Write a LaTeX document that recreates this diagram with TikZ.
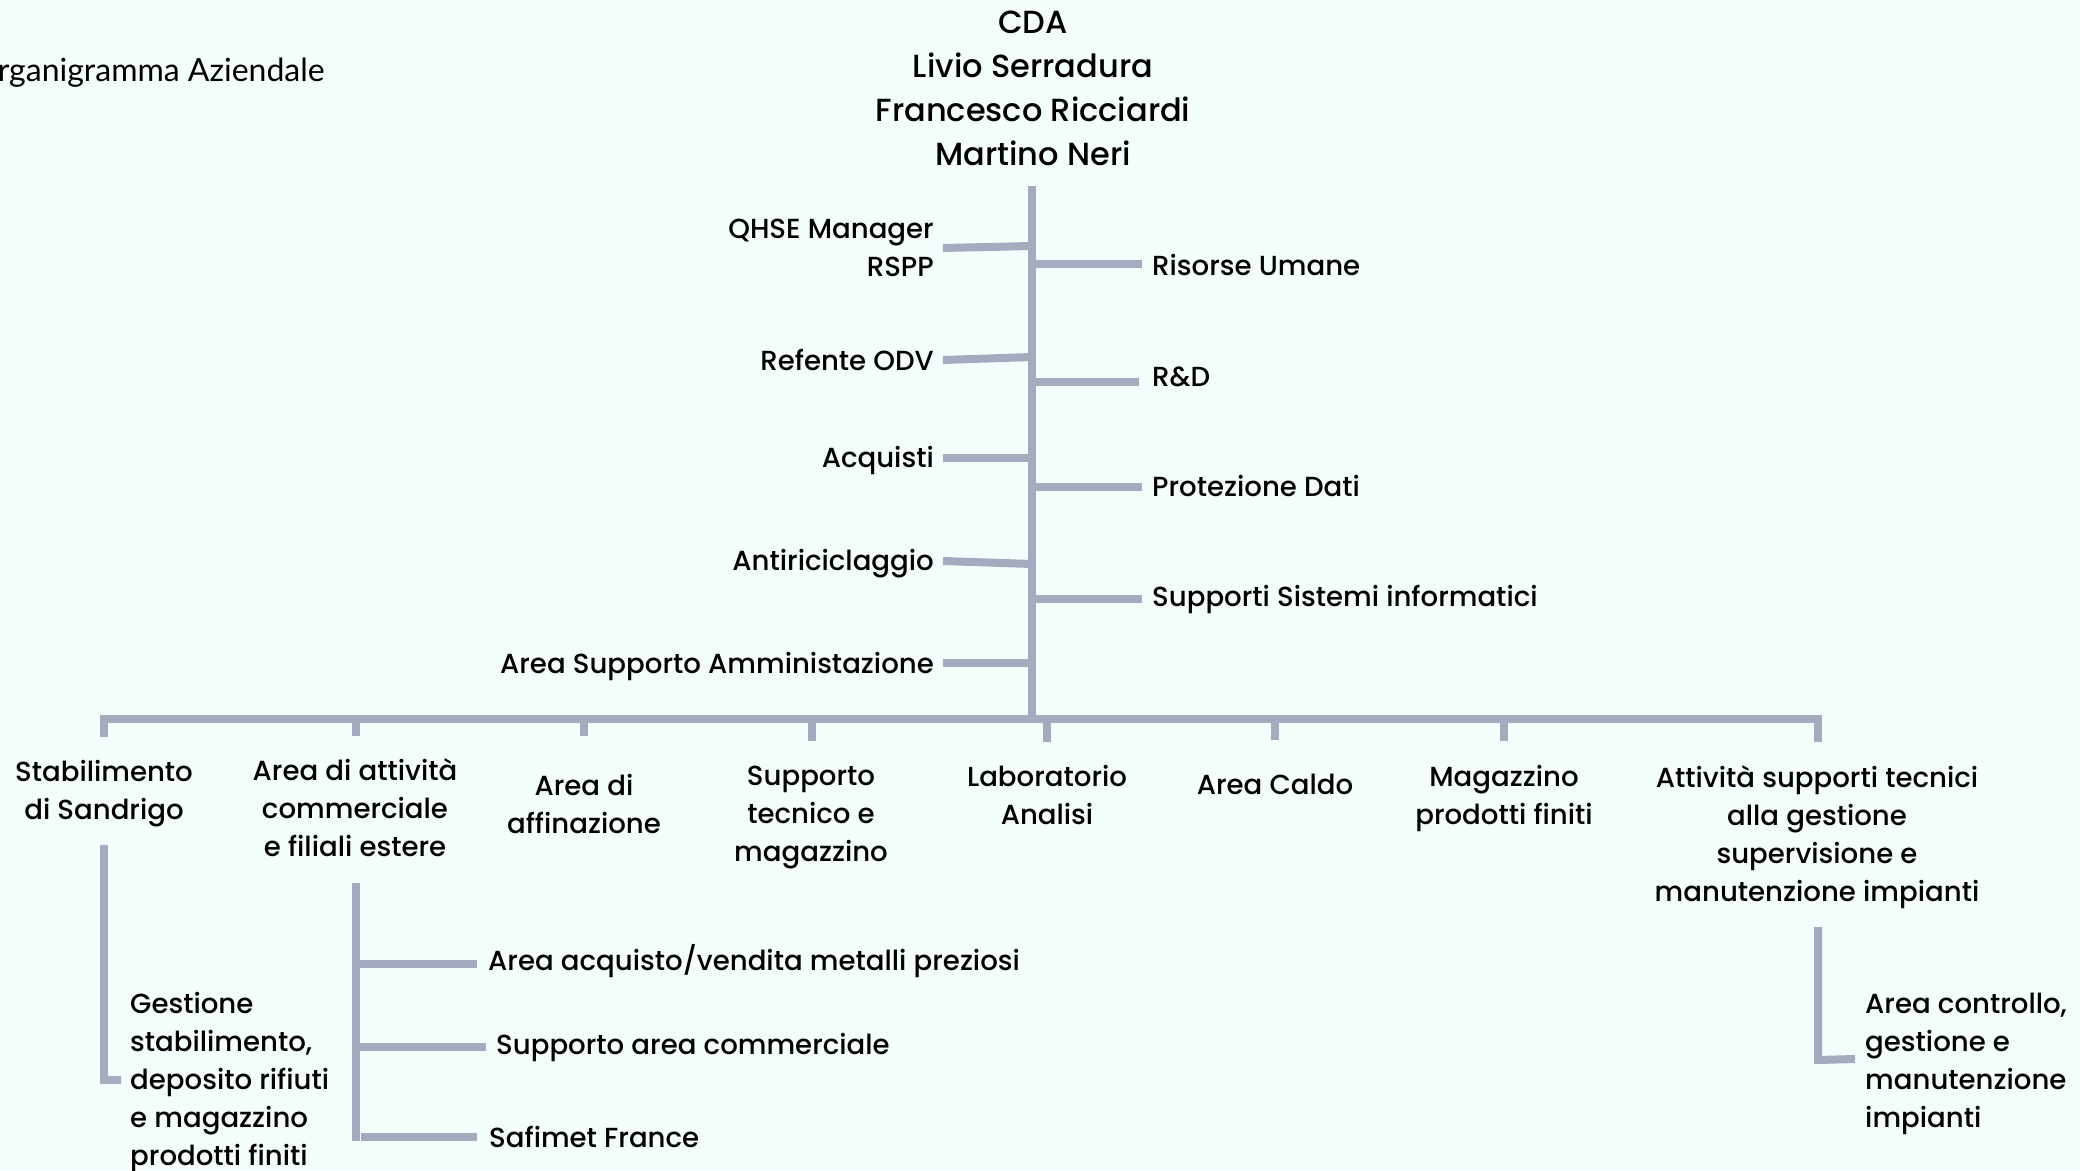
\documentclass[tikz,border=0pt]{standalone}
\usepackage{fontspec}
\setmainfont{Poppins Medium}
\newfontfamily\titlefont{Lato}
\definecolor{bg}{HTML}{F3FDFC}
\definecolor{ln}{HTML}{A5AABF}
\begin{document}
\begin{tikzpicture}[x=1pt,y=-1pt,
  lbl/.style={inner sep=0pt, text=black, font=\fontsize{27.6}{38}\selectfont},
  top/.style={inner sep=0pt, text=black, align=center, font=\fontsize{32}{44}\selectfont},
  conn/.style={draw=ln, line width=8pt, line join=miter},
  drop/.style={draw=ln, line width=7.5pt},
]
\fill[bg] (0,0) rectangle (2080,1170);
\useasboundingbox (0,0) rectangle (2080,1170);

% title
\node[inner sep=0pt, anchor=east, font=\titlefont\fontsize{32}{38}\selectfont] (title) at (325,73) {Organigramma Aziendale};

% top block
\node[top] (cda) at (1033,88) {CDA\\Livio Serradura\\Francesco Ricciardi\\Martino Neri};

% trunk coordinates
\coordinate (ttop) at (1032,186);
\coordinate (tbus) at (1032,719);
\coordinate (tq) at (1032,246);
\coordinate (to) at (1032,357);
\coordinate (ta) at (1032,458);
\coordinate (tr) at (1032,564);
\coordinate (ts) at (1032,663);
\coordinate (trh) at (1032,264);
\coordinate (trd) at (1032,382);
\coordinate (tpd) at (1032,487);
\coordinate (tsi) at (1032,599);

% left labels
\node[lbl, anchor=east, align=right] (qhse) at (934,248) {QHSE Manager\\RSPP};
\node[lbl, anchor=east] (odv) at (934,360) {Refente ODV};
\node[lbl, anchor=east] (acq) at (934,460) {Acquisti};
\node[lbl, anchor=east] (anti) at (934,564) {Antiriciclaggio};
\node[lbl, anchor=east] (amm) at (934,666) {Area Supporto Amministazione};

% right labels
\node[lbl, anchor=west] (hr) at (1152,265) {Risorse Umane};
\node[lbl, anchor=west] (rd) at (1152,377) {R\&D};
\node[lbl, anchor=west] (pd) at (1152,486) {Protezione Dati};
\node[lbl, anchor=west] (si) at (1152,599) {Supporti Sistemi informatici};

% trunk
\draw[conn] (ttop) -- (tbus);

% left branches
\draw[conn] (943,248) coordinate (qe) -- (tq);
\draw[conn] (943,360) coordinate (oe) -- (to);
\draw[conn] (943,458) coordinate (ae) -- (ta);
\draw[conn] (943,561) coordinate (re) -- (tr);
\draw[conn] (943,663) coordinate (se) -- (ts);

% right branches
\draw[conn] (trh) -- (1142,264) coordinate (hre);
\draw[conn] (trd) -- (1139,382) coordinate (rde);
\draw[conn] (tpd) -- (1142,487) coordinate (pde);
\draw[conn] (tsi) -- (1142,599) coordinate (sie);

% bottom labels
\node[lbl, align=center] (stab) at (104,794) {Stabilimento\\di Sandrigo};
\node[lbl, align=center] (comm) at (355,808) {Area di attività\\commerciale\\e filiali estere};
\node[lbl, align=center] (aff) at (584,804) {Area di\\affinazione};
\node[lbl, align=center] (stm) at (811,818) {Supporto\\tecnico e\\magazzino};
\node[lbl, align=center] (lab) at (1047,795) {Laboratorio\\Analisi};
\node[lbl, align=center] (caldo) at (1275,784) {Area Caldo};
\node[lbl, align=center] (mag) at (1504,798) {Magazzino\\prodotti finiti};
\node[lbl, align=center] (att) at (1817,837) {Attività supporti tecnici\\alla gestione\\supervisione e\\manutenzione impianti};

% bus
\draw[conn] (104,737) -- (104,719) -- (tbus) -- (1818,719) -- (1818,742);
\draw[drop] (356,719) -- (356,736);
\draw[drop] (584,719) -- (584,736);
\draw[drop] (812,719) -- (812,741);
\draw[drop] (1047,719) -- (1047,742);
\draw[drop] (1275,719) -- (1275,740);
\draw[drop] (1504,719) -- (1504,741);

% sub labels
\node[lbl, anchor=west, align=left] (gest) at (130,1082) {Gestione\\stabilimento,\\deposito rifiuti\\e magazzino\\prodotti finiti};
\node[lbl, anchor=west] (avm) at (488,961) {Area acquisto/vendita metalli preziosi};
\node[lbl, anchor=west] (sac) at (496,1047) {Supporto area commerciale};
\node[lbl, anchor=west] (saf) at (489,1137) {Safimet France};
\node[lbl, anchor=west, align=left] (acg) at (1865,1064) {Area controllo,\\gestione e\\manutenzione\\impianti};

% sub connectors
\draw[conn] (104,845) -- (104,1080) -- (121,1080);
\draw[conn] (356,883) -- (356,1141);
\draw[conn] (356,964) -- (477,964);
\draw[conn] (356,1047) -- (486,1047);
\draw[conn] (361,1137) -- (477,1137);
\draw[conn] (1818,927) -- (1818,1060) -- (1855,1059);
\end{tikzpicture}
\end{document}
